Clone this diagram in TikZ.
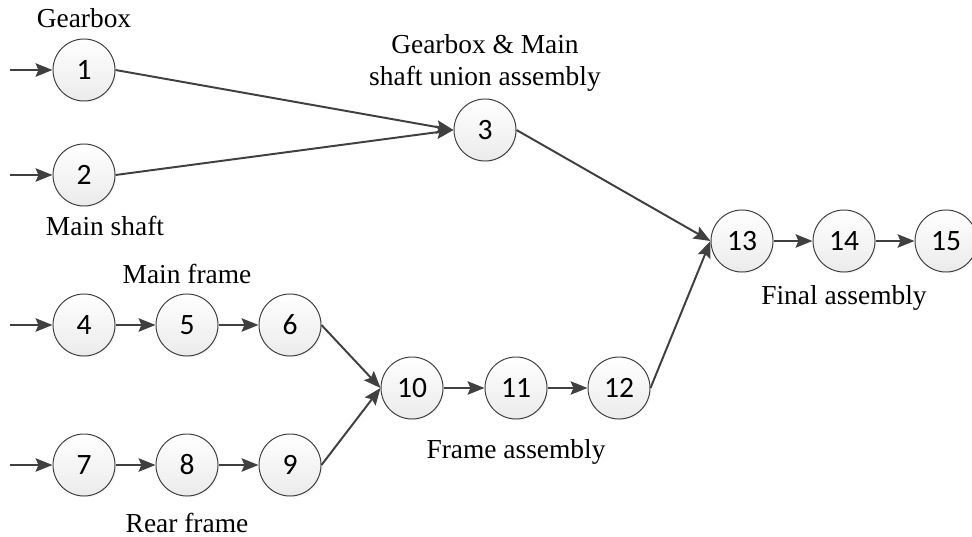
\documentclass[tikz,border=0pt]{standalone}
\usepackage{fontspec}
\setmainfont{Liberation Serif}
\newfontfamily\numfont{Carlito}
\usetikzlibrary{arrows.meta,shadows}

\definecolor{linegray}{HTML}{404040}

\tikzset{
    station/.style={circle, draw=linegray, line width=0.7pt, minimum size=1.55cm, inner sep=0pt,
        top color=white, bottom color=black!8,
        circular drop shadow={shadow xshift=1.2pt, shadow yshift=-1.2pt, shadow scale=1.0, opacity=0.22},
        font=\numfont\fontsize{21}{21}\selectfont},
    flow/.style={draw=linegray, line width=1.4pt, -{Stealth[length=12pt, width=9.5pt, inset=2pt]}},
    caption/.style={font=\fontsize{19.5}{22.5}\selectfont, align=center}
}

\begin{document}
\begin{tikzpicture}[x=0.025cm, y=-0.025cm]
    \useasboundingbox (0,0) rectangle (972,537);

    % Stations
    \node[station] (n1) at (84,70) {1};
    \node[station] (n2) at (84,175) {2};
    \node[station] (n3) at (485,130) {3};
    \node[station] (n4) at (84,325) {4};
    \node[station] (n5) at (187,325) {5};
    \node[station] (n6) at (290,325) {6};
    \node[station] (n7) at (84,465) {7};
    \node[station] (n8) at (187,465) {8};
    \node[station] (n9) at (290,465) {9};
    \node[station] (n10) at (412,388) {10};
    \node[station] (n11) at (516,388) {11};
    \node[station] (n12) at (619,388) {12};
    \node[station] (n13) at (742,241) {13};
    \node[station] (n14) at (844,241) {14};
    \node[station] (n15) at (946,241) {15};

    % Inputs
    \coordinate (in1) at (10,70);
    \coordinate (in2) at (10,175);
    \coordinate (in4) at (10,325);
    \coordinate (in7) at (10,465);
    \draw[flow] (in1) -- (n1);
    \draw[flow] (in2) -- (n2);
    \draw[flow] (in4) -- (n4);
    \draw[flow] (in7) -- (n7);

    % Sub-assembly lines
    \draw[flow] (n1.east) -- (n3.west);
    \draw[flow] (n2.east) -- (n3.west);
    \draw[flow] (n4) -- (n5);
    \draw[flow] (n5) -- (n6);
    \draw[flow] (n7) -- (n8);
    \draw[flow] (n8) -- (n9);
    \draw[flow] (n6.east) -- (n10.west);
    \draw[flow] (n9.east) -- (n10.west);
    \draw[flow] (n10) -- (n11);
    \draw[flow] (n11) -- (n12);

    % Final assembly
    \draw[flow] (n3.east) -- (n13.west);
    \draw[flow] (n12.east) -- (n13.west);
    \draw[flow] (n13) -- (n14);
    \draw[flow] (n14) -- (n15);

    % Labels
    \node[caption] (gearbox) at (84,18) {Gearbox};
    \node[caption] (mainshaft) at (105,226) {Main shaft};
    \node[caption] (union) at (485,63) {Gearbox \& Main\\shaft union assembly};
    \node[caption] (mainframe) at (187,274) {Main frame};
    \node[caption] (final) at (844,298) {Final assembly};
    \node[caption] (frameasm) at (516,452) {Frame assembly};
    \node[caption] (rearframe) at (187,523) {Rear frame};
\end{tikzpicture}
\end{document}
